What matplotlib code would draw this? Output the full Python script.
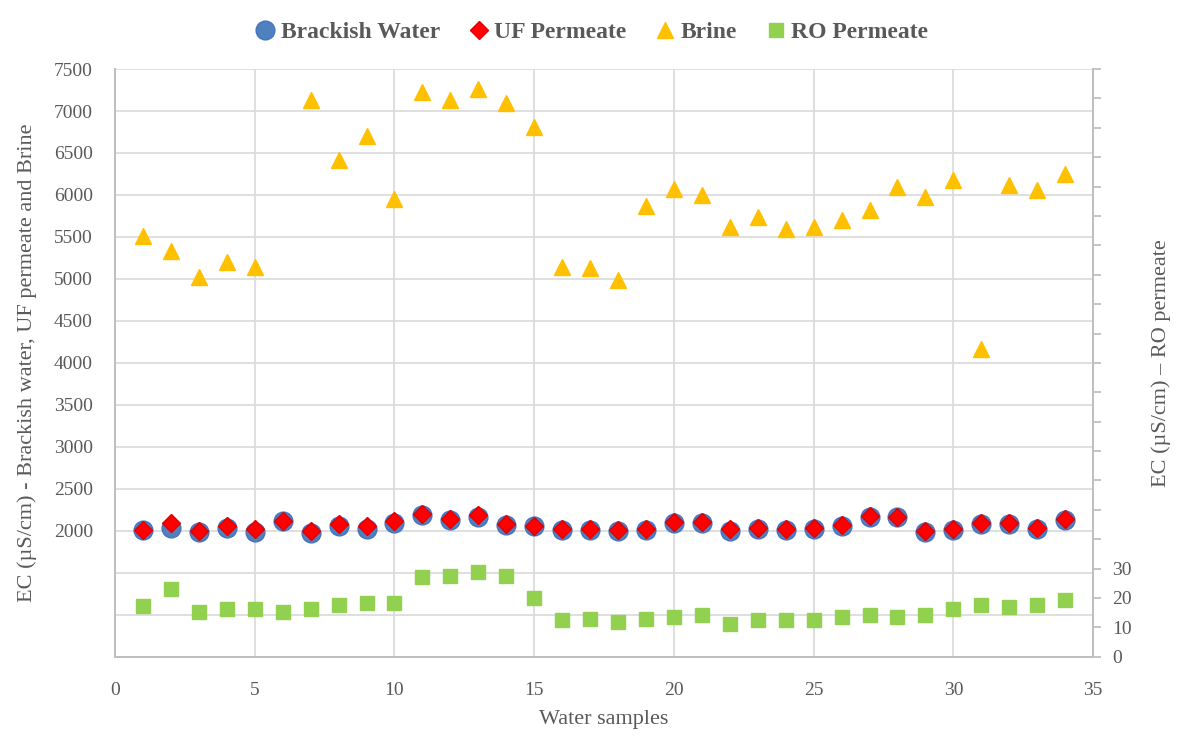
import numpy as np
import matplotlib.pyplot as plt
from matplotlib.ticker import FuncFormatter, MultipleLocator

plt.rcParams['font.family'] = ['Liberation Serif', 'DejaVu Serif']

samples = list(range(1, 35))

brackish = [2015, 2039, 1984, 2032, 1988, 2119, 1972, 2052, 2020, 2092,
            2190, 2123, 2170, 2071, 2052, 2012, 2004, 1992, 2012, 2092,
            2092, 1992, 2020, 2012, 2024, 2060, 2170, 2162, 1980, 2004,
            2080, 2083, 2024, 2131]
uf_permeate = [2012, 2092, 2000, 2060, 2020, 2119, 2000, 2080, 2060, 2111,
               2202, 2143, 2190, 2083, 2060, 2020, 2020, 2004, 2020, 2103,
               2103, 2024, 2032, 2024, 2032, 2071, 2178, 2170, 1992, 2020,
               2092, 2092, 2039, 2139]
# no brine reading for sample 6
brine = [5510, 5335, 5020, 5200, 5140, np.nan, 7130, 6415, 6705, 5950,
         7225, 7130, 7260, 7100, 6810, 5140, 5125, 4990, 5870, 6070,
         6000, 5620, 5740, 5590, 5615, 5700, 5820, 6090, 5980, 6180,
         4165, 6115, 6060, 6245]
ro_permeate = [17.2, 23.1, 15.1, 16.1, 16.3, 15.1, 16.1, 17.7, 18.4, 18.4,
               27.1, 27.5, 28.9, 27.5, 20.1, 12.5, 12.8, 11.9, 13.0, 13.6,
               14.1, 11.0, 12.6, 12.6, 12.4, 13.6, 14.1, 13.6, 14.1, 16.4,
               17.6, 17.0, 17.6, 19.3]

txt = '#595959'
grid = '#D9D9D9'

fig = plt.figure(figsize=(11.83, 7.36), dpi=100)
ax = fig.add_axes([0.0972, 0.1077, 0.8268, 0.7985])
ax2 = ax.twinx()

ax.plot(samples, brackish, 'o', ms=13.5, color='#4F81BD', mec='#4472C4', zorder=3,
        label='Brackish Water')
ax.plot(samples, uf_permeate, 'D', ms=9, color='#FF0000', mec='#E00000', zorder=4,
        label='UF Permeate')
ax.plot(samples, brine, '^', ms=11, color='#FFC000', mec='#FFC000', zorder=3,
        label='Brine')
ax2.plot(samples, ro_permeate, 's', ms=10, color='#92D050', mec='#92D050', zorder=3,
         label='RO Permeate')

ax.set_xlim(0, 35)
ax.set_ylim(500, 7500)
ax2.set_ylim(0, 200)
ax.xaxis.set_major_locator(MultipleLocator(5))
ax.yaxis.set_major_locator(MultipleLocator(500))
ax2.yaxis.set_major_locator(MultipleLocator(10))

ax.yaxis.set_major_formatter(FuncFormatter(lambda v, p: f'{v:.0f}' if v >= 2000 else ''))
ax2.yaxis.set_major_formatter(FuncFormatter(lambda v, p: f'{v:.0f}' if v <= 30 else ''))

ax.grid(True, color=grid, lw=1.2, zorder=0)
ax.set_axisbelow(True)
ax2.grid(False)

for a in (ax, ax2):
    a.spines['top'].set_visible(False)
    for s in ('left', 'right', 'bottom'):
        a.spines[s].set_color('#BFBFBF')
        a.spines[s].set_linewidth(1.3)

ax.tick_params(axis='x', length=0, pad=18, labelsize=14, labelcolor=txt)
ax.tick_params(axis='y', length=0, pad=16, labelsize=14, labelcolor=txt)
ax2.tick_params(axis='y', length=6, width=1.3, color='#BFBFBF', pad=8,
                labelsize=14, labelcolor=txt)

ax.set_xlabel('Water samples', fontsize=16, color=txt, labelpad=8)
ax.set_ylabel('EC (µS/cm) - Brackish water, UF permeate and Brine', fontsize=16,
              color=txt, labelpad=12)
ax2.set_ylabel('EC (µS/cm) – RO permeate', fontsize=16, color=txt, rotation=90,
               labelpad=14)

handles = ax.get_legend_handles_labels()[0] + ax2.get_legend_handles_labels()[0]
labels = [h.get_label() for h in handles]
fig.legend(handles, labels, loc='upper center', bbox_to_anchor=(0.5, 1.0), ncol=4,
           frameon=False, prop={'size': 17, 'weight': 'bold'}, labelcolor=txt,
           handlelength=0.9, handletextpad=0.2, columnspacing=1.2, markerscale=1.0)

fig.savefig('out.png', dpi=100)
